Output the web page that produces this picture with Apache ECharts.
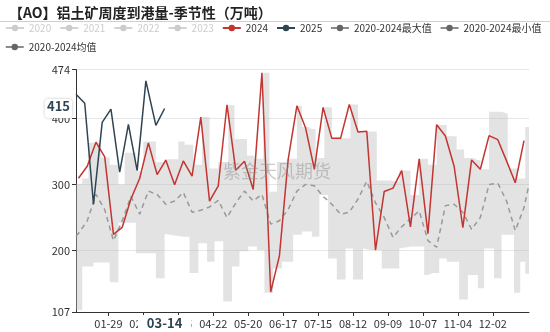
<!DOCTYPE html>
<html><head><meta charset="utf-8">
<script src="https://cdn.jsdelivr.net/npm/echarts@6/dist/echarts.min.js"></script>
<style>html,body{margin:0;padding:0;background:#fff}#c{width:550px;height:332px}</style>
</head><body><div id="c"></div>
<script>
const FONT = '"Noto Sans CJK SC", "Noto Sans", sans-serif';
const titleText = '【AO】铝土矿周度到港量-季节性（万吨）';
const watermarkText = '紫金天风期货';
const tickLabels = ['01-29','02-26','03-25','04-22','05-20','06-17','07-15','08-12','09-09','10-07','11-04','12-02'];

const dates2024 = ['01-05','01-12','01-19','01-26','02-02','02-09','02-16','02-23','03-01','03-08','03-15','03-22','03-29',
  '04-05','04-12','04-19','04-26','05-03','05-10','05-17','05-24','05-31','06-07','06-14','06-21','06-28',
  '07-05','07-12','07-19','07-26','08-02','08-09','08-16','08-23','08-30','09-06','09-13','09-20','09-27',
  '10-04','10-11','10-18','10-25','11-01','11-08','11-15','11-22','11-29','12-06','12-13','12-20','12-27'];
const values2024 = [309.5,327.6,364,341.7,224.6,235,278,309,363,315,336.7,299.5,335.7,
  312.6,402,274.9,298,420.6,321.6,335,292.5,469,137.2,192,337.7,419,
  385.4,323,416.6,369.8,369.8,421,379.4,380.4,200.5,289.4,294.5,321,235.7,
  338.7,225.6,390.5,373.4,327.6,234.7,337.2,323,373.9,367.8,335.7,302.5,366.3];

const dates2025 = ['01-03','01-10','01-17','01-24','01-31','02-07','02-14','02-21','02-28','03-07','03-14'];
const values2025 = [436.7,423,270,394,414,318.6,391,321,456.8,389.4,415];

// 2020-2024 max / min band (value holds from each date to the next)
const bandDates = ['01-03','01-08','01-13','01-17','01-23','01-30','02-06','02-11','02-20','02-26','03-07','03-14','03-25','03-30',
  '04-03','04-06','04-10','04-13','04-17','04-19','04-23','04-26','04-30','05-04','05-07','05-09','05-13','05-19','05-20',
  '05-25','05-27','06-01','06-02','06-06','06-09','06-12','06-16','06-20','06-25','06-28','07-02','07-07','07-10','07-13',
  '07-16','07-20','07-23','07-26','07-30','08-06','08-10','08-12','08-16','08-20','08-26','08-31','09-04','09-10','09-18',
  '09-27','09-28','10-04','10-08','10-11','10-15','10-18','10-20','10-26','11-03','11-05','11-09','11-12','11-16','11-20',
  '11-22','11-25','11-29','12-03','12-09','12-14','12-19','12-22','12-24','12-28','12-31'];
const bandMax = [301,309,363,363,341,330,300,348,320,365,334,338,365,360,
  360,330,330,402,402,324,324,334,334,420,420,369,369,344,344,
  339,339,469,469,289,289,334,334,339,339,419,387,384,384,340,
  340,417,417,370,370,370,421,421,380,380,380,306,306,304,321,
  284,284,339,339,330,330,390,390,373,353,353,340,340,337,337,
  323,323,410,410,407,324,324,309,309,387,387];
const bandMin = [110,176,176,182,182,152,242,242,196,196,158,225,222,221,
  166,166,211,211,183,183,214,214,123,123,176,176,199,199,206,
  206,201,201,136,136,173,173,183,183,224,224,229,229,221,221,
  284,284,188,188,156,203,203,156,156,203,201,201,173,173,203,
  203,206,206,163,163,166,166,188,183,183,126,126,163,163,143,
  143,203,203,158,224,224,136,136,183,165,165];

// 2020-2024 mean
const avgDates = ['01-03'].concat(dates2024, ['12-31']);
const avgValues = [222,226,245,285,262,215,245,282,255,290,285,270,275,288,
  258,261,266,276,250,272,290,275,285,240,245,262,290,
  300,298,282,270,255,258,278,305,272,250,220,236,248,
  260,215,205,268,270,258,232,250,300,302,275,230,265,300];

const pointerDate = '03-14';
const pointerValue = 415;

// daily category axis (2024 calendar), 01-03 .. 12-31
const days = [];
for (let d = new Date(Date.UTC(2024,0,3)); d <= new Date(Date.UTC(2024,11,31)); d.setUTCDate(d.getUTCDate()+1)) {
  days.push(String(d.getUTCMonth()+1).padStart(2,'0') + '-' + String(d.getUTCDate()).padStart(2,'0'));
}
const showTick = (i, v) => tickLabels.indexOf(v) >= 0;
const pairs = (ds, vs) => ds.map((d, i) => [d, vs[i]]);

const chart = echarts.init(document.getElementById('c'), null, {renderer: 'canvas'});
const gray = 'rgba(185,185,185,0.4)';
const emptySeries = y => ({name: y, type: 'line', data: [], symbol: 'circle', itemStyle: {color: '#999'}});
const legendLine = {opacity: 1, color: '#666', width: 1.5, type: 'solid'};
const legendText = {fontSize: 10, color: '#333', fontFamily: FONT};

const option = {
  animation: false,
  textStyle: {fontFamily: FONT},
  title: {text: titleText, left: 4, top: 1, textStyle: {fontSize: 14, fontWeight: 'bold', color: '#222', fontFamily: FONT}},
  graphic: [
    {type: 'line', shape: {x1: 0, y1: 21.5, x2: 550, y2: 21.5}, style: {stroke: '#d0d0d0', lineWidth: 1}, silent: true},
    {type: 'text', left: 223, top: 162, z: 100, silent: true,
     style: {text: watermarkText, fill: 'rgba(140,140,140,0.45)', font: '18px ' + FONT}}
  ],
  legend: [
    {left: 5, top: 23, width: 545, padding: 0, itemWidth: 18, itemHeight: 8, itemGap: 8, inactiveColor: '#ccc',
     textStyle: legendText,
     selected: {'2020': false, '2021': false, '2022': false, '2023': false},
     data: ['2020','2021','2022','2023','2024','2025',
       {name: '2020-2024最大值', lineStyle: legendLine},
       {name: '2020-2024最小值', lineStyle: legendLine}]},
    {left: 5, top: 42, padding: 0, itemWidth: 18, itemHeight: 8, itemGap: 8, inactiveColor: '#ccc',
     textStyle: legendText,
     data: [{name: '2020-2024均值', lineStyle: legendLine}]}
  ],
  grid: {left: 76, right: 21, top: 69.5, bottom: 20},
  xAxis: {
    type: 'category', data: days, boundaryGap: false,
    axisLine: {lineStyle: {color: '#333'}},
    axisTick: {interval: showTick, length: 4, lineStyle: {color: '#333'}},
    axisLabel: {interval: showTick, fontSize: 11, color: '#333', margin: 6, fontFamily: FONT},
    splitLine: {show: false},
    axisPointer: {show: true, status: 'show', value: days.indexOf(pointerDate), snap: false, triggerTooltip: false,
      lineStyle: {color: 'rgba(0,0,0,0)', width: 0},
      label: {show: true, backgroundColor: '#fff', color: '#2f4554', fontWeight: 'bold', fontSize: 13,
              padding: [2, 9], margin: 4, fontFamily: FONT}}
  },
  yAxis: {
    type: 'value', min: 107, max: 474,
    axisLine: {show: true, lineStyle: {color: '#333'}},
    axisTick: {show: true, length: 4, lineStyle: {color: '#333'}},
    axisLabel: {fontSize: 11, color: '#333', margin: 6, fontFamily: FONT},
    splitLine: {lineStyle: {color: '#e6e6e6'}},
    axisPointer: {show: true, status: 'show', value: pointerValue, snap: false, triggerTooltip: false,
      lineStyle: {color: 'rgba(0,0,0,0)', width: 0},
      label: {show: true, formatter: () => String(pointerValue), backgroundColor: '#fff', color: '#2f4554',
              fontWeight: 'bold', fontSize: 13, padding: [1, 2, 5, 2], margin: 4, borderRadius: 3,
              shadowBlur: 3, shadowColor: 'rgba(0,0,0,0.25)', fontFamily: FONT}}
  },
  series: [
    emptySeries('2020'), emptySeries('2021'), emptySeries('2022'), emptySeries('2023'),
    {name: '2020-2024最小值', type: 'line', stack: 'band', step: 'end', z: 1, symbol: 'circle', showSymbol: false,
     itemStyle: {color: '#666'}, lineStyle: {opacity: 0}, data: pairs(bandDates, bandMin)},
    {name: '2020-2024最大值', type: 'line', stack: 'band', step: 'end', z: 1, symbol: 'circle', showSymbol: false,
     itemStyle: {color: '#666'}, lineStyle: {opacity: 0}, areaStyle: {color: gray, opacity: 1},
     data: pairs(bandDates, bandMax.map((v, i) => v - bandMin[i]))},
    {name: '2020-2024均值', type: 'line', z: 2, symbol: 'circle', showSymbol: false,
     itemStyle: {color: '#666'}, lineStyle: {color: '#999', width: 1.5, type: [5, 4]}, data: pairs(avgDates, avgValues)},
    {name: '2024', type: 'line', z: 3, symbol: 'circle', symbolSize: 4, itemStyle: {color: '#c23531'},
     lineStyle: {width: 1.5}, data: pairs(dates2024, values2024)},
    {name: '2025', type: 'line', z: 4, symbol: 'circle', symbolSize: 4, itemStyle: {color: '#2f4554'},
     lineStyle: {width: 1.5}, data: pairs(dates2025, values2025)}
  ]
};
chart.setOption(option);
</script></body></html>
